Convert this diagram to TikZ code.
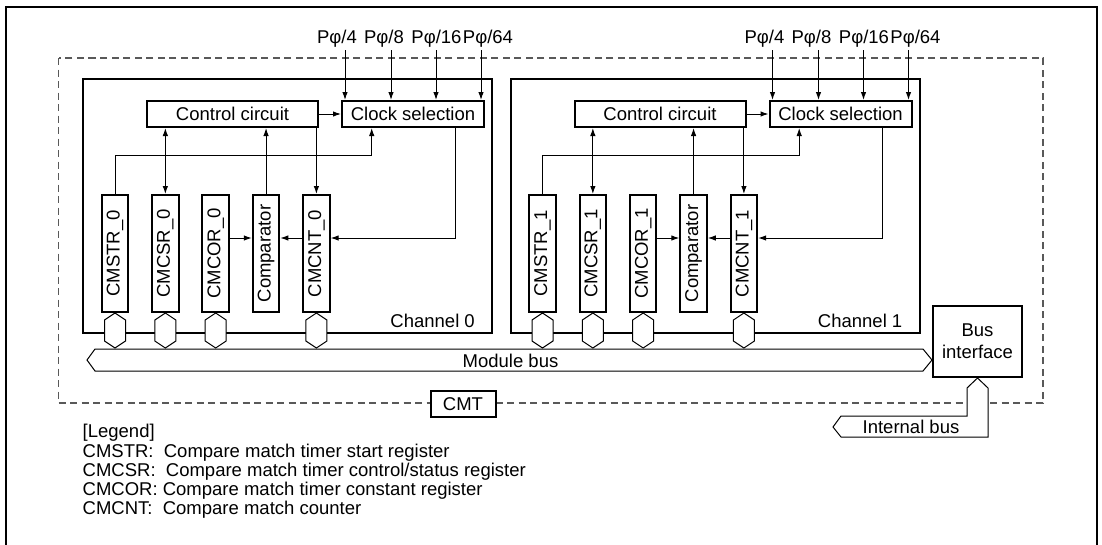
\documentclass[tikz,border=0pt]{standalone}
\usepackage{fontspec}
\setmainfont{Liberation Sans}
\usepackage{graphicx}
\usetikzlibrary{arrows.meta,calc}
\begin{document}
\begin{tikzpicture}[x=1pt,y=-1pt,
  font=\fontsize{18.5}{21.7}\selectfont,
  box/.style={draw, line width=2pt, fill=white, inner sep=0pt, minimum height=26pt},
  chbox/.style={draw, line width=2pt, inner sep=0pt, minimum width=409pt, minimum height=254pt},
  reg/.style={draw, line width=2pt, fill=white, inner sep=0pt, minimum width=26.5pt, minimum height=117pt},
  conn/.style={line width=1pt, -{Latex[length=8pt,width=5.5pt]}},
  dconn/.style={line width=1pt, {Latex[length=8pt,width=5.5pt]}-{Latex[length=8pt,width=5.5pt]}},
  hexs/.style={draw, line width=1pt, fill=white, line join=miter},
  busline/.style={draw, line width=1pt, fill=white},
  dashbox/.style={draw=black!65, line width=1.2pt, dash pattern=on 7pt off 4.5pt},
  lbl/.style={inner sep=0pt},
]
\useasboundingbox (0,0) rectangle (1102,544);
\clip (0,0) rectangle (1102,544);
% outer frame (bottom edge lies outside the picture)
\draw[line width=2pt] (6,560) -- (6,6.5) -- (1097,6.5) -- (1097,560);
% CMT dashed boundary
\draw[dashbox] (58.5,58) rectangle (1043,403);

\foreach \c/\dx in {0/0,1/427.5}{
 \begin{scope}[xshift=\dx]
  \node[chbox] (ch\c) at (287.5,206) {};
  \node[box, minimum width=171pt] (ctl\c) at (232.5,114) {Control circuit};
  \node[box, minimum width=142pt] (cs\c) at (413,114) {Clock selection};
  \foreach \n/\t/\x in {str/CMSTR\_\c/115, csr/CMCSR\_\c/165.35, cor/CMCOR\_\c/215.7, cmp/Comparator/266.05, cnt/CMCNT\_\c/316.4}{
    \node[reg] (\n\c) at (\x,253.5) {\rotatebox{90}{\t}};
  }
  % internal connections
  \draw[conn] (ctl\c.east) -- (cs\c.west);
  \draw[dconn] (csr\c.north |- ctl\c.south) -- (csr\c.north);
  \draw[conn] (cmp\c.north) -- (cmp\c.north |- ctl\c.south);
  \draw[conn] (cnt\c.north |- ctl\c.south) -- (cnt\c.north);
  \coordinate (k\c) at (371.7,155.5);
  \draw[conn] (str\c.north) |- (k\c) -- (k\c |- cs\c.south);
  \coordinate (m\c) at (455,238);
  \draw[conn] (m\c |- cs\c.south) -- (m\c) -- (m\c -| cnt\c.east);
  \draw[conn] (cor\c.east |- m\c) -- (cmp\c.west |- m\c);
  \draw[conn] (cnt\c.west |- m\c) -- (cmp\c.east |- m\c);
  % bus connectors
  \foreach \r in {str,csr,cor,cnt}{
    \draw[hexs] (\r\c.south) -- ++(10.5,7) -- ++(0,21) -- ++(-10.5,7) -- ++(-10.5,-7) -- ++(0,-21) -- cycle;
  }
  % clock inputs
  \foreach \q/\t/\ax/\lx in {a/{Pφ/4}/345/337, b/{Pφ/8}/391/384, c/{Pφ/16}/436/436.5, d/{Pφ/64}/481/488}{
    \node[lbl, anchor=base] (p\q\c) at (\lx,43.3) {\t};
    \coordinate (pt\q\c) at (\ax,50);
    \draw[conn] (pt\q\c) -- (pt\q\c |- cs\c.north);
  }
  \node[lbl, anchor=east] (chl\c) at (475,321) {Channel \c};
 \end{scope}
}

% module bus
\draw[busline] (87,360) -- (95,349) -- (923,349) -- (932,360) -- (923,371) -- (95,371) -- cycle;
\node[lbl] (mbus) at (510.5,360.5) {Module bus};

% bus interface
\node[box, minimum width=89pt, minimum height=71pt, align=center] (bif) at (977.5,341.5) {Bus\\interface};

% internal bus
\draw[busline] (833,427) -- (841,416) -- (967,416) -- (967,388) -- (bif.south) -- (988,388) -- (988,437) -- (841,437) -- cycle;
\node[lbl] (ibus) at (911,427) {Internal bus};

% CMT label
\node[box, minimum width=65pt, minimum height=26pt] (cmt) at (463,404) {CMT};

% legend
\node[lbl, anchor=base west] (leg0) at (82.5,437.7) {[Legend]};
\node[lbl, anchor=base west] (leg1) at (82.5,457) {CMSTR:~~Compare match timer start register};
\node[lbl, anchor=base west] (leg2) at (82.5,476.3) {CMCSR:~~Compare match timer control/status register};
\node[lbl, anchor=base west] (leg3) at (82.5,495.6) {CMCOR:~Compare match timer constant register};
\node[lbl, anchor=base west] (leg4) at (82.5,514.9) {CMCNT:~~Compare match counter};
\end{tikzpicture}
\end{document}
